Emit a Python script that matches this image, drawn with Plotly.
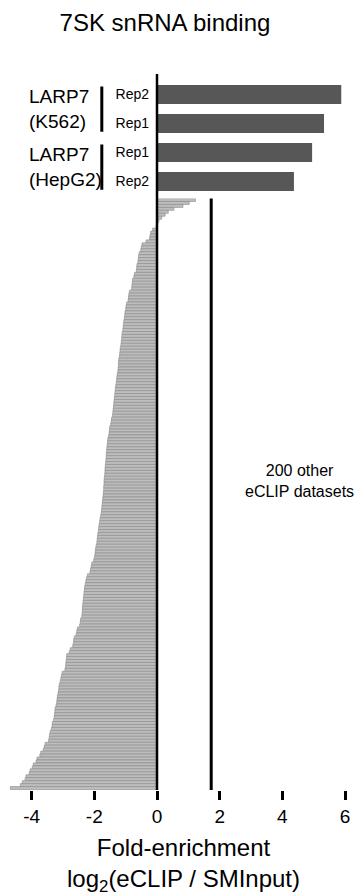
import plotly.graph_objects as go

# LARP7 eCLIP replicates, listed top to bottom
larp7_labels = ["K562 Rep2", "K562 Rep1", "HepG2 Rep1", "HepG2 Rep2"]
larp7_reps = ["Rep2", "Rep1", "Rep1", "Rep2"]
larp7_values = [5.88, 5.33, 4.95, 4.37]
larp7_groups = {
    "LARP7<br>(K562)": ["K562 Rep2", "K562 Rep1"],
    "LARP7<br>(HepG2)": ["HepG2 Rep1", "HepG2 Rep2"],
}

# all other eCLIP datasets, sorted by 7SK enrichment
other_values = [
    1.23, 1.03, 0.83, 0.54, 0.36, 0.26, 0.15, 0.06, 0.02, -0.03,
    -0.14, -0.20, -0.22, -0.24, -0.35, -0.48, -0.50, -0.52, -0.57, -0.59,
    -0.60, -0.61, -0.64, -0.65, -0.66, -0.72, -0.74, -0.78, -0.79, -0.80,
    -0.81, -0.88, -0.90, -0.91, -0.92, -0.97, -0.99, -1.00, -1.02, -1.03,
    -1.04, -1.06, -1.07, -1.08, -1.09, -1.11, -1.12, -1.13, -1.14, -1.15,
    -1.17, -1.18, -1.19, -1.20, -1.22, -1.23, -1.23, -1.24, -1.25, -1.27,
    -1.28, -1.29, -1.30, -1.32, -1.33, -1.34, -1.35, -1.36, -1.37, -1.38,
    -1.39, -1.40, -1.41, -1.42, -1.45, -1.46, -1.48, -1.51, -1.52, -1.53,
    -1.55, -1.57, -1.58, -1.59, -1.60, -1.61, -1.62, -1.62, -1.63, -1.64,
    -1.65, -1.66, -1.66, -1.67, -1.68, -1.69, -1.69, -1.70, -1.70, -1.71,
    -1.72, -1.73, -1.74, -1.75, -1.76, -1.77, -1.78, -1.80, -1.82, -1.83,
    -1.85, -1.86, -1.87, -1.89, -1.90, -1.91, -1.92, -1.94, -1.96, -1.97,
    -1.98, -2.00, -2.02, -2.08, -2.10, -2.12, -2.14, -2.22, -2.25, -2.27,
    -2.29, -2.31, -2.32, -2.33, -2.34, -2.35, -2.36, -2.37, -2.38, -2.38,
    -2.39, -2.40, -2.44, -2.45, -2.47, -2.54, -2.56, -2.58, -2.64, -2.66,
    -2.67, -2.69, -2.77, -2.80, -2.88, -2.89, -2.90, -2.91, -2.92, -2.94,
    -3.03, -3.05, -3.07, -3.09, -3.12, -3.13, -3.14, -3.16, -3.18, -3.19,
    -3.20, -3.22, -3.25, -3.26, -3.27, -3.28, -3.30, -3.34, -3.35, -3.37,
    -3.41, -3.43, -3.44, -3.46, -3.57, -3.60, -3.63, -3.71, -3.74, -3.83,
    -3.86, -3.95, -3.98, -4.05, -4.08, -4.18, -4.21, -4.30, -4.36, -4.68,
]
other_labels = [f"eCLIP {i + 1}" for i in range(len(other_values))]

cutoff = 1.73
tick_values = [-4, -2, 0, 2, 4, 6]
tick_labels = ["-4", "-2", "0", "2", "4", "6"]

FONT = "Liberation Sans, Arial, sans-serif"
x_range = [-5.01, 6.51]
zero_pos = (0 - x_range[0]) / (x_range[1] - x_range[0])
split = 0.8261

fig = go.Figure()
fig.add_trace(go.Bar(
    x=other_values, y=other_labels, orientation="h",
    xaxis="x", yaxis="y", width=1.0,
    marker=dict(color="#bdbdbd", line=dict(color="#8a8a8a", width=0.6)),
    hoverinfo="x+y",
))
fig.add_trace(go.Bar(
    x=larp7_values, y=larp7_labels, orientation="h",
    xaxis="x", yaxis="y2", width=0.66,
    marker=dict(color="#575757", line=dict(width=0)),
    hoverinfo="x+y",
))

shapes = [
    # zero axis through both panels
    dict(type="line", xref="x", yref="paper", x0=0, x1=0, y0=0, y1=1,
         line=dict(color="black", width=2.5)),
    # enrichment cutoff over the other datasets
    dict(type="line", xref="x", yref="y domain", x0=cutoff, x1=cutoff, y0=0, y1=1,
         line=dict(color="black", width=3)),
]
annotations = []
for text, members in larp7_groups.items():
    idx = [larp7_labels.index(m) for m in members]
    shapes.append(dict(type="line", xref="paper", yref="y2",
                       x0=0.282, x1=0.282, y0=min(idx) - 0.28, y1=max(idx) + 0.28,
                       line=dict(color="black", width=3)))
    annotations.append(dict(text=text, xref="paper", yref="y2",
                            x=0.075, y=sum(idx) / len(idx), xanchor="left", align="left",
                            yanchor="middle", showarrow=False,
                            font=dict(size=19, family=FONT, color="black")))

annotations.append(dict(text="200 other<br>eCLIP datasets", xref="paper", yref="paper",
                        x=0.831, y=0.4316, xanchor="center", yanchor="middle",
                        showarrow=False, font=dict(size=16, family=FONT, color="black")))
annotations.append(dict(text="Fold-enrichment<br>log<sub>2</sub>(eCLIP / SMInput)",
                        xref="paper", yref="paper", x=0.508, y=-0.1047,
                        xanchor="center", yanchor="middle", showarrow=False,
                        font=dict(size=24, family=FONT, color="black")))

fig.update_layout(
    width=361, height=896,
    margin=dict(l=0, r=0, t=74, b=106),
    paper_bgcolor="white", plot_bgcolor="white",
    showlegend=False,
    font=dict(family=FONT, color="black"),
    title=dict(text="7SK snRNA binding", x=0.457, xref="container", xanchor="center",
               y=1 - 23 / 896, yref="container", yanchor="middle",
               font=dict(size=24, family=FONT, color="black")),
    xaxis=dict(domain=[0, 1], range=x_range, anchor="y",
               tickmode="array", tickvals=tick_values, ticktext=tick_labels,
               ticks="outside", ticklen=9, tickwidth=2.5, tickcolor="black",
               tickfont=dict(size=19, family=FONT, color="black"),
               showline=False, showgrid=False, zeroline=False),
    yaxis=dict(domain=[0, split], anchor="x",
               categoryorder="array", categoryarray=other_labels,
               range=[199.66, -0.508],
               showticklabels=False, ticks="", showgrid=False, zeroline=False, showline=False),
    yaxis2=dict(domain=[split, 1], anchor="free", position=zero_pos,
                categoryorder="array", categoryarray=larp7_labels,
                range=[3.586, -0.707],
                tickmode="array", tickvals=larp7_labels, ticktext=larp7_reps,
                ticks="", ticklabelstandoff=8,
                tickfont=dict(size=14, family=FONT, color="black"),
                showgrid=False, zeroline=False, showline=False),
    shapes=shapes,
    annotations=annotations,
)

fig.write_html("out.html")
